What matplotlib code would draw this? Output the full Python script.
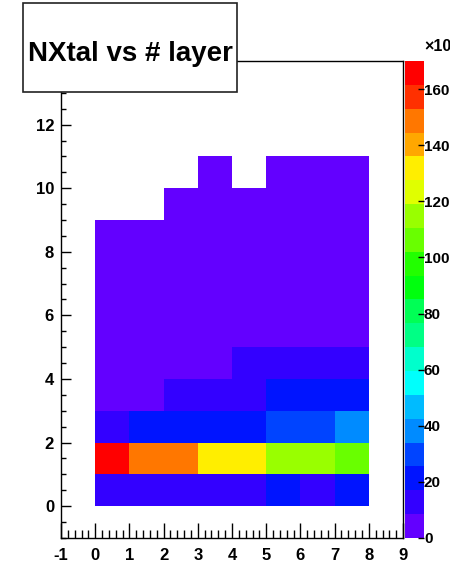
import colorsys
import numpy as np
import matplotlib
matplotlib.use("Agg")
import matplotlib.pyplot as plt
from matplotlib.colors import ListedColormap, BoundaryNorm
from matplotlib.patches import Rectangle

plt.rcParams['font.family'] = ['Liberation Sans', 'DejaVu Sans']
plt.rcParams['font.weight'] = 'bold'
plt.rcParams['axes.unicode_minus'] = False

# bin edges (x = layer, y = NXtal)
x_edges = np.arange(0, 9)
y_edges = np.arange(0, 12)

# cell contents (x10^3), one list per NXtal row, columns are layers 0..7
row0 = [12, 12, 12, 12, 12, 21, 13, 20]
row1 = [168, 148, 148, 131, 131, 115, 115, 106]
row2 = [13, 21, 21, 21, 21, 30, 30, 38]
row3 = [6, 6, 12, 12, 12, 21, 21, 21]
row4 = [6, 6, 6, 6, 11, 11, 11, 11]
row5 = [5, 5, 5, 5, 5, 5, 5, 5]
row6 = [4, 4, 4, 4, 4, 4, 4, 4]
row7 = [3, 3, 3, 3, 3, 3, 3, 3]
row8 = [2, 2, 2, 2, 2, 2, 2, 2]
row9 = [0, 0, 1, 1, 1, 1, 1, 1]
row10 = [0, 0, 0, 1, 0, 1, 1, 1]
counts = np.array([row0, row1, row2, row3, row4, row5, row6, row7, row8, row9, row10], dtype=float)

z_max = 170
n_levels = 20
cbar_ticks = [0, 20, 40, 60, 80, 100, 120, 140, 160]

# ROOT "pretty" palette: 50 hues from violet to red, picked for 20 contours
pal = []
for i in range(50):
    hue = 280 - (i + 1) * (280 / 50)
    pal.append(colorsys.hls_to_rgb(hue / 360.0, 0.5, 1.0))
colors = [pal[int((k + 0.99) * 50 / n_levels)] for k in range(n_levels)]
cmap = ListedColormap(colors)
norm = BoundaryNorm(np.linspace(0, z_max, n_levels + 1), n_levels)

fig = plt.figure(figsize=(4.5, 5.66), dpi=100)
ax = fig.add_axes([0.1356, 0.0495, 0.7600, 0.8427])
cax = fig.add_axes([0.9, 0.0495, 0.0422, 0.8427])

data = np.ma.masked_where(counts <= 0, counts)
mesh = ax.pcolormesh(x_edges, y_edges, data, cmap=cmap, norm=norm)

ax.set_xlim(-1, 9)
ax.set_ylim(-1, 14)
ax.set_xticks(np.arange(-1, 10, 1))
ax.set_xticks(np.arange(-1, 9.01, 0.2), minor=True)
ax.set_yticks(np.arange(0, 13, 2))
ax.set_yticks(np.arange(-1, 14.01, 0.5), minor=True)
ax.tick_params(axis='x', which='major', direction='in', length=10.5, width=1, pad=7, labelsize=12)
ax.tick_params(axis='x', which='minor', direction='in', length=5.5, width=1)
ax.tick_params(axis='y', which='major', direction='in', length=7, width=1, pad=5, labelsize=12)
ax.tick_params(axis='y', which='minor', direction='in', length=3.6, width=1)
for s in ax.spines.values():
    s.set_linewidth(1.0)

cb = fig.colorbar(mesh, cax=cax, ticks=cbar_ticks)
cb.outline.set_visible(False)
cax.tick_params(direction='in', length=4, width=1, pad=0, labelsize=11)
cax.minorticks_off()
fig.text(0.942, 0.905, '×10', fontsize=11.5, ha='left', va='bottom')

# title box
fig.patches.append(Rectangle((0.0511, 0.8375), 0.4756, 0.157, transform=fig.transFigure,
                             facecolor='white', edgecolor='#222222', linewidth=1.2, zorder=5))
fig.text(0.289, 0.905, 'NXtal vs # layer', fontsize=20, fontweight='bold',
         ha='center', va='center', zorder=6)

fig.savefig('out.png', dpi=100)
